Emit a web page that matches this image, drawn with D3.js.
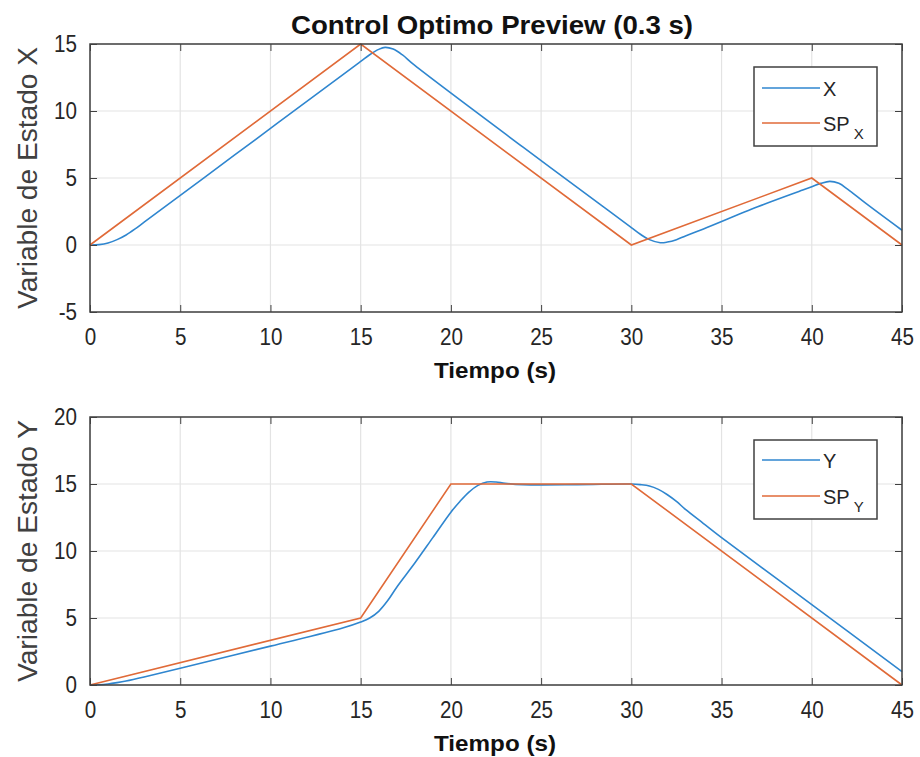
<!DOCTYPE html>
<html>
<head>
<meta charset="utf-8">
<script src="https://cdn.jsdelivr.net/npm/d3@7"></script>
<style>
  body { margin: 0; background: #fff; }
  svg { display: block; }
  .tick-lbl { font-family: "Liberation Sans", Arial, sans-serif; font-size: 24px; fill: #262626; }
</style>
</head>
<body>
<svg id="chart" width="920" height="757"></svg>
<script>
// Set points (piecewise linear) and response curves
const spxT = [0, 15, 30, 40, 45];
const spxV = [0, 15, 0, 5, 0];
const xT = [0, 0.5, 1, 1.5, 2, 2.5, 3, 8, 14, 15, 15.5, 16, 16.35, 16.8, 17.3, 18, 24, 29, 30, 30.5, 31, 31.6, 32, 32.5, 33, 34, 37, 39.5, 40, 40.5, 41, 41.5, 42, 43, 45];
const xV = [0, 0.03, 0.15, 0.4, 0.75, 1.2, 1.7, 6.7, 12.7, 13.7, 14.2, 14.6, 14.75, 14.62, 14.2, 13.4, 7.3, 2.3, 1.3, 0.8, 0.4, 0.17, 0.22, 0.4, 0.68, 1.2, 2.85, 4.1, 4.35, 4.6, 4.75, 4.6, 4.15, 3.1, 1.1];

const spyT = [0, 15, 20, 30, 45];
const spyV = [0, 5, 15, 15, 0];
const yT = [0, 0.5, 1, 1.5, 2, 3, 5, 10, 14, 15, 15.5, 16, 16.5, 17, 18, 19, 20, 20.5, 21, 21.5, 22, 22.5, 23, 24, 27, 30, 30.5, 31, 31.5, 32, 32.5, 33, 34, 35, 40, 45];
const yV = [0, 0.02, 0.08, 0.18, 0.3, 0.6, 1.25, 2.9, 4.25, 4.7, 5.0, 5.5, 6.3, 7.3, 9.1, 11.0, 12.9, 13.7, 14.4, 14.9, 15.15, 15.15, 15.05, 14.95, 14.95, 15.0, 14.95, 14.85, 14.6, 14.2, 13.7, 13.1, 12.05, 11.0, 6.0, 1.0];

const xTicks = d3.range(0, 46, 5);
const topYTicks = [-5, 0, 5, 10, 15];
const botYTicks = [0, 5, 10, 15, 20];

const blue = "#2f86cf", orange = "#e06a38", axisCol = "#404040", gridCol = "#e3e3e3";
const svg = d3.select("#chart");

// MATLAB-like condensed tick labels: squeeze horizontally, keep anchor position
const squeeze = 0.86;
function styleTickText(sel) {
  sel.selectAll("text")
    .attr("class", "tick-lbl").attr("font-size", null).attr("font-family", null).attr("fill", null)
    .attr("transform", function () {
      const xx = +d3.select(this).attr("x") || 0;
      return `translate(${xx * (1 - squeeze)},0) scale(${squeeze},1)`;
    });
}

function panel(cfg) {
  const { top, bottom, yDomain, yTicks, series, ylabel, legend } = cfg;
  const left = 90, right = 902;
  const x = d3.scaleLinear().domain([0, 45]).range([left, right]);
  const y = d3.scaleLinear().domain(yDomain).range([bottom, top]);
  const g = svg.append("g");

  // grid
  g.selectAll("line.gx").data(xTicks).join("line")
    .attr("x1", d => x(d)).attr("x2", d => x(d)).attr("y1", top).attr("y2", bottom)
    .attr("stroke", gridCol).attr("stroke-width", 1.2);
  g.selectAll("line.gy").data(yTicks).join("line")
    .attr("x1", left).attr("x2", right).attr("y1", d => y(d)).attr("y2", d => y(d))
    .attr("stroke", gridCol).attr("stroke-width", 1.2);

  // curves
  const line = d3.line().x(d => x(d[0])).y(d => y(d[1]));
  series.forEach(s => {
    g.append("path")
      .datum(d3.zip(s.t, s.v))
      .attr("fill", "none").attr("stroke", s.color).attr("stroke-width", 1.6)
      .attr("d", line.curve(s.smooth ? d3.curveCatmullRom.alpha(0.5) : d3.curveLinear));
  });

  // box with inward ticks on all sides (MATLAB style)
  const fmt = d => String(d);
  g.append("g").attr("transform", `translate(0,${bottom})`)
    .call(d3.axisBottom(x).tickValues(xTicks).tickFormat(fmt).tickSizeInner(-7).tickSizeOuter(0).tickPadding(16))
    .call(a => a.select(".domain").remove())
    .call(a => a.selectAll("line").attr("stroke", axisCol))
    .call(a => styleTickText(a));
  g.append("g").attr("transform", `translate(0,${top})`)
    .call(d3.axisTop(x).tickValues(xTicks).tickSizeInner(-7).tickSizeOuter(0).tickFormat(""))
    .call(a => a.select(".domain").remove())
    .call(a => a.selectAll("line").attr("stroke", axisCol));
  g.append("g").attr("transform", `translate(${left},0)`)
    .call(d3.axisLeft(y).tickValues(yTicks).tickFormat(fmt).tickSizeInner(-7).tickSizeOuter(0).tickPadding(13))
    .call(a => a.select(".domain").remove())
    .call(a => a.selectAll("line").attr("stroke", axisCol))
    .call(a => styleTickText(a));
  g.append("g").attr("transform", `translate(${right},0)`)
    .call(d3.axisRight(y).tickValues(yTicks).tickSizeInner(-7).tickSizeOuter(0).tickFormat(""))
    .call(a => a.select(".domain").remove())
    .call(a => a.selectAll("line").attr("stroke", axisCol));
  g.append("rect")
    .attr("x", left).attr("y", top).attr("width", right - left).attr("height", bottom - top)
    .attr("fill", "none").attr("stroke", axisCol).attr("stroke-width", 1.5);

  // labels
  g.append("text")
    .attr("x", (left + right) / 2 - 1).attr("y", bottom + 66)
    .attr("text-anchor", "middle")
    .attr("font-family", "'Liberation Sans', Arial, sans-serif")
    .attr("font-weight", "bold").attr("font-size", 22).attr("fill", "#111")
    .attr("textLength", 122).attr("lengthAdjust", "spacingAndGlyphs")
    .text("Tiempo (s)");
  g.append("text")
    .attr("transform", `translate(37,${(top + bottom) / 2}) rotate(-90)`)
    .attr("text-anchor", "middle")
    .attr("font-family", "'Liberation Sans', Arial, sans-serif")
    .attr("font-size", 27).attr("fill", "#404040")
    .attr("textLength", 262).attr("lengthAdjust", "spacingAndGlyphs")
    .text(ylabel);

  // legend
  const lg = g.append("g").attr("transform", `translate(754,${legend.y})`);
  lg.append("rect").attr("width", 123).attr("height", legend.h)
    .attr("fill", "#fff").attr("stroke", axisCol).attr("stroke-width", 1.5);
  legend.items.forEach((it, i) => {
    const yy = legend.rows[i];
    lg.append("line").attr("x1", 8).attr("x2", 66).attr("y1", yy).attr("y2", yy)
      .attr("stroke", it.color).attr("stroke-width", 1.6);
    const tx = lg.append("text").attr("x", 69).attr("y", yy + 8)
      .attr("font-family", "'Liberation Sans', Arial, sans-serif")
      .attr("font-size", 20).attr("fill", "#262626");
    tx.append("tspan").text(it.label);
    if (it.sub) tx.append("tspan").attr("dx", 4).attr("dy", 8).attr("font-size", 15).text(it.sub);
  });
}

panel({
  top: 44, bottom: 312, yDomain: [-5, 15], yTicks: topYTicks,
  ylabel: "Variable de Estado X",
  series: [
    { t: xT, v: xV, color: blue, smooth: true },
    { t: spxT, v: spxV, color: orange, smooth: false }
  ],
  legend: { y: 67, h: 79, rows: [21, 56], items: [
    { label: "X", color: blue }, { label: "SP", sub: "X", color: orange }] }
});

panel({
  top: 417, bottom: 685, yDomain: [0, 20], yTicks: botYTicks,
  ylabel: "Variable de Estado Y",
  series: [
    { t: yT, v: yV, color: blue, smooth: true },
    { t: spyT, v: spyV, color: orange, smooth: false }
  ],
  legend: { y: 440, h: 79, rows: [20, 56], items: [
    { label: "Y", color: blue }, { label: "SP", sub: "Y", color: orange }] }
});

svg.append("text")
  .attr("x", 492).attr("y", 34)
  .attr("text-anchor", "middle")
  .attr("font-family", "'Liberation Sans', Arial, sans-serif")
  .attr("font-weight", "bold").attr("font-size", 26).attr("fill", "#111")
  .attr("textLength", 402).attr("lengthAdjust", "spacingAndGlyphs")
  .text("Control Optimo Preview (0.3 s)");
</script>
</body>
</html>
